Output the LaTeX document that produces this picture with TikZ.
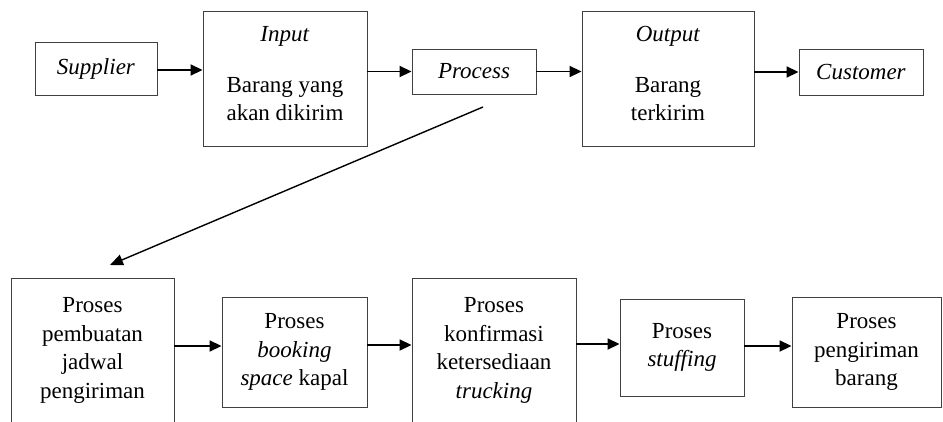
\documentclass[tikz,border=0pt]{standalone}
\usepackage{fontspec}
\setmainfont{Liberation Serif}
\usetikzlibrary{arrows.meta}
\begin{document}
\begin{tikzpicture}[x=1pt,y=-1pt,
  box/.style={draw=black!75, line width=0.9pt, align=center, inner sep=0pt,
    font=\fontsize{23}{28.5}\selectfont},
  arr/.style={line width=1.8pt, -{Triangle[length=12pt,width=11pt]}},
  diag/.style={line width=1.4pt, -{Triangle[length=13pt,width=11pt]}},
]
\clip (0,0) rectangle (943,421);
\fill[white] (0,0) rectangle (943,421);
% top row
\node[box, minimum width=122pt, minimum height=53pt] (sup) at (96,68.5) {\textit{Supplier}};
\node[box, minimum width=164pt, minimum height=135pt] (inp) at (285,78.5)
  {\textit{Input}\\[22pt]Barang yang\\akan dikirim\rule[-10pt]{0pt}{0pt}};
\node[box, minimum width=124pt, minimum height=45pt] (proc) at (474,71.5) {\textit{Process}};
\node[box, minimum width=172pt, minimum height=135pt] (out) at (668,78.5)
  {\textit{Output}\\[22pt]Barang\\terkirim\rule[-10pt]{0pt}{0pt}};
\node[box, minimum width=124pt, minimum height=46pt] (cus) at (861,72) {\textit{Customer}};
% bottom row
\node[box, minimum width=163pt, minimum height=145pt] (b1) at (92.5,350.5)
  {Proses\\pembuatan\\jadwal\\pengiriman};
\node[box, minimum width=145pt, minimum height=110pt] (b2) at (294.5,352)
  {Proses\\\textit{booking}\\\textit{space} kapal};
\node[box, minimum width=164pt, minimum height=145pt] (b3) at (494,350.5)
  {Proses\\konfirmasi\\ketersediaan\\\textit{trucking}};
\node[box, minimum width=124pt, minimum height=97pt] (b4) at (682,347.5)
  {Proses\\\textit{stuffing}};
\node[box, minimum width=149pt, minimum height=110pt] (b5) at (866.5,352)
  {Proses\\pengiriman\\barang};
% top arrows
\draw[arr] ([yshift=-1.5pt]sup.east) -- ([yshift=-1.5pt]sup.east -| inp.west);
\draw[arr] (inp.east |- proc.west) -- (proc.west);
\draw[arr] (proc.east) -- (proc.east -| out.west);
\draw[arr] (out.east |- cus.west) -- (cus.west);
% diagonal
\coordinate (dstart) at (483,107);
\coordinate (dend) at (110,265);
\draw[diag] (dstart) -- (dend);
% bottom arrows
\draw[arr] ([yshift=4.5pt]b1.east) -- ([yshift=4.5pt]b1.east -| b2.west);
\draw[arr] ([yshift=7pt]b2.east) -- ([yshift=7pt]b2.east -| b3.west);
\draw[arr] ([yshift=3.5pt]b4.west -| b3.east) -- ([yshift=3.5pt]b4.west);
\draw[arr] ([yshift=1.5pt]b4.east) -- ([yshift=1.5pt]b4.east -| b5.west);
\end{tikzpicture}
\end{document}
